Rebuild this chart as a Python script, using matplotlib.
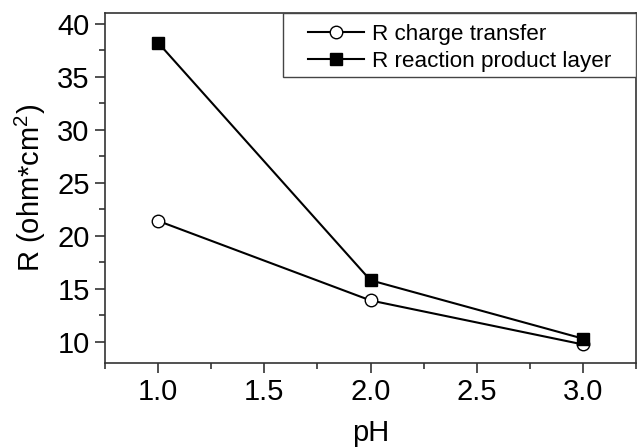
import matplotlib
matplotlib.use("Agg")
import matplotlib.pyplot as plt
from matplotlib.patches import Rectangle
from matplotlib.ticker import MultipleLocator

plt.rcParams['font.family'] = ['Liberation Sans', 'DejaVu Sans']

ph = [1.0, 2.0, 3.0]
r_charge_transfer = [21.4, 13.9, 9.75]
r_product_layer = [38.2, 15.8, 10.3]

fig = plt.figure(figsize=(6.43, 4.47), dpi=100)
ax = fig.add_axes([105 / 643, 1 - 363 / 447, (636 - 105) / 643, (363 - 13) / 447])

ax.plot(ph, r_charge_transfer, color='black', lw=1.5, marker='o', ms=9,
        mfc='white', mec='black', mew=1.0, label='R charge transfer')
ax.plot(ph, r_product_layer, color='black', lw=1.5, marker='s', ms=8.5,
        mfc='black', mec='black', label='R reaction product layer')

ax.set_xlim(0.75, 3.25)
ax.set_ylim(8, 41)
ax.xaxis.set_major_locator(MultipleLocator(0.5))
ax.xaxis.set_minor_locator(MultipleLocator(0.25))
ax.yaxis.set_major_locator(MultipleLocator(5))
ax.yaxis.set_minor_locator(MultipleLocator(2.5))
ax.tick_params(which='major', direction='out', length=7, width=1.2,
               labelsize=21, color='#333333', pad=4)
ax.tick_params(which='minor', direction='out', length=4, width=1.2, color='#333333')
ax.tick_params(top=False, right=False, which='both')
for s in ax.spines.values():
    s.set_linewidth(1.2)
    s.set_color('#333333')

ax.set_xlabel('pH', fontsize=21, labelpad=9)
ax.set_ylabel(r'R (ohm*cm$^{\mathregular{2}}$)', fontsize=21, labelpad=7)

# legend box: wider horizontal padding than vertical, so the frame is drawn separately
ax.add_patch(Rectangle((0.335, 0.817), 0.665, 0.183, transform=ax.transAxes,
                       facecolor='white', edgecolor='#444444', lw=1.0, zorder=4))
leg = ax.legend(loc='upper left', bbox_to_anchor=(0.382, 0.968), borderaxespad=0,
                fontsize=16.2, frameon=False, handlelength=2.5,
                handletextpad=0.35, labelspacing=0.25, borderpad=0)
leg.set_zorder(5)

fig.savefig('out.png', dpi=100, facecolor='white')
